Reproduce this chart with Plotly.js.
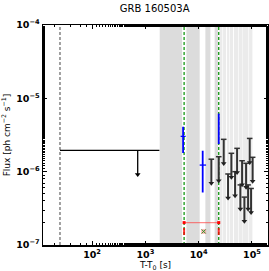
<!DOCTYPE html>
<html><head><meta charset="utf-8">
<script src="https://cdn.plot.ly/plotly-3.0.1.min.js"></script>
<style>body{margin:0;padding:0;background:#fff}#c{width:269px;height:271px}</style>
</head><body><div id="c"></div>
<script>
// ---- data ----
const xRangeVals = [12, 2.0e5];
const yRangeVals = [1e-7, 1e-4];
const t90Line = 25;
const greenLines = [5330, 23800];
// dark gray bands [start, end]
const darkBandStart = [1858, 5890, 13370, 19950];
const darkBandEnd   = [4890, 10450, 16600, 23100];
// light gray bands
const lightBandStart = [24500, 28700, 34100, 38800, 46100, 56400, 67000, 88300];
const lightBandEnd   = [27900, 32700, 37700, 44200, 54900, 66000, 85700, 101900];
// first (long) upper limit
const ul0T = 718, ul0Lo = 25, ul0Hi = 1833, ul0Val = 1.95e-6;
// upper limits
const ulT   = [17300, 23800, 29500, 35600, 41100, 48200, 52600, 60600, 65300, 72100, 77600, 84600, 90700, 96300, 103000];
const ulVal = [1.48e-6, 1.60e-6, 2.76e-6, 9.3e-7, 1.78e-6, 1.0e-6, 2.08e-6, 6.6e-7, 1.41e-6, 4.5e-7, 1.30e-6, 6.6e-7, 2.84e-6, 5.9e-7, 1.57e-6];
// detections
const detT = [5100, 11900, 23800];
const detF = [3.03e-6, 1.23e-6, 4.45e-6];
const detFHi = [1.07e-6, 0.70e-6, 1.75e-6];
const detFLo = [1.23e-6, 0.71e-6, 2.07e-6];
const detTLo = [510, 1450, 0];
const detTHi = [600, 1870, 0];
// red interval
const redT = [5330, 23800];
const redF = 2.02e-7;
const redTickF = 1.53e-7;
const markT = 12400, markF = 1.53e-7;
// ticks
const xTickVals = [1e2, 1e3, 1e4, 1e5];
const xTickText = ['10<sup>2</sup>', '10<sup>3</sup>', '10<sup>4</sup>', '10<sup>5</sup>'];
const yTickVals = [1e-7, 1e-6, 1e-5, 1e-4];
const yTickText = ['10<sup>−7</sup>', '10<sup>−6</sup>', '10<sup>−5</sup>', '10<sup>−4</sup>'];
const arrowFactor = 0.47;

const traces = [];
function band(a, b, color) {
  traces.push({x: [a, b, b, a, a], y: [yRangeVals[0], yRangeVals[0], yRangeVals[1], yRangeVals[1], yRangeVals[0]],
    mode: 'lines', fill: 'toself', fillcolor: color, line: {width: 0}, hoverinfo: 'skip', showlegend: false});
}
darkBandStart.forEach((s, i) => band(s, darkBandEnd[i], '#dcdcdc'));
lightBandStart.forEach((s, i) => band(s, lightBandEnd[i], '#ebebeb'));

function vline(x, color, dash, w) {
  traces.push({x: [x, x], y: yRangeVals, mode: 'lines', line: {color: color, dash: dash, width: w}, showlegend: false, hoverinfo: 'skip'});
}
vline(t90Line, '#555555', '3px,2px', 1.1);
greenLines.forEach(g => vline(g, '#009000', '3px,2px', 1.2));

// red interval
traces.push({x: redT, y: [redF, redF], mode: 'lines+markers', line: {color: 'rgba(255,60,60,0.6)', width: 1.3},
  marker: {color: 'red', symbol: 'square', size: 3}, showlegend: false});
traces.push({x: redT, y: [redTickF, redTickF], mode: 'markers',
  marker: {symbol: 'line-ns', size: 5, line: {color: 'rgba(255,0,0,0.8)', width: 2}}, showlegend: false});
traces.push({x: [markT], y: [markF], mode: 'markers',
  marker: {symbol: 'square', size: 5, color: 'rgba(255,120,120,0.5)'}, showlegend: false});
traces.push({x: [markT], y: [markF], mode: 'markers',
  marker: {symbol: 'x-thin', size: 4, line: {color: '#2a9a2a', width: 1}}, showlegend: false});

// first UL
traces.push({x: [ul0Lo, ul0Hi], y: [ul0Val, ul0Val], mode: 'lines', line: {color: 'black', width: 1.3}, showlegend: false});
traces.push({x: [ul0T, ul0T], y: [ul0Val, ul0Val * arrowFactor], mode: 'lines', line: {color: 'black', width: 1.3}, showlegend: false});
traces.push({x: [ul0T], y: [ul0Val * arrowFactor], mode: 'markers', marker: {symbol: 'triangle-down', size: 5, color: 'black'}, showlegend: false});

// other ULs
ulT.forEach((t, i) => {
  traces.push({x: [t, t], y: [ulVal[i], ulVal[i] * arrowFactor], mode: 'lines', line: {color: '#333333', width: 2}, showlegend: false});
});
traces.push({x: ulT, y: ulVal, mode: 'markers', marker: {symbol: 'line-ew', size: 4, line: {color: '#333333', width: 1.5}}, showlegend: false});
traces.push({x: ulT, y: ulVal.map(v => v * arrowFactor), mode: 'markers', marker: {symbol: 'triangle-down', size: 5, color: '#222222'}, showlegend: false});

// detections
traces.push({x: detT, y: detF, mode: 'markers', marker: {size: 1, color: 'blue', opacity: 0},
  error_y: {type: 'data', symmetric: false, array: detFHi, arrayminus: detFLo, color: 'blue', thickness: 1.8, width: 0},
  error_x: {type: 'data', symmetric: false, array: detTHi, arrayminus: detTLo, color: 'blue', thickness: 1.3, width: 0},
  showlegend: false});

const tickFont = {family: 'DejaVu Sans', size: 9.5, color: 'black', weight: 'bold'};
const layout = {
  width: 269, height: 271,
  margin: {l: 43, r: 1, t: 25, b: 26},
  paper_bgcolor: 'white', plot_bgcolor: 'white',
  showlegend: false,
  title: {text: 'GRB 160503A', font: {family: 'DejaVu Sans', size: 10, color: 'black'}, x: 0.575, xanchor: 'center', y: 0.955, yanchor: 'bottom'},
  xaxis: {type: 'log', range: [Math.log10(xRangeVals[0]), Math.log10(xRangeVals[1])],
    tickvals: xTickVals, ticktext: xTickText, tickfont: tickFont,
    ticks: 'inside', ticklen: 4, tickwidth: 1, tickcolor: 'black',
    minor: {ticks: 'inside', ticklen: 2, tickcolor: 'black', showgrid: false},
    showline: true, linecolor: 'black', linewidth: 1.5, mirror: 'allticks',
    showgrid: false, zeroline: false,
    title: {text: 'T-T<sub>0</sub> [s]', font: {family: 'DejaVu Sans', size: 9, color: 'black'}, standoff: 2}},
  yaxis: {type: 'log', range: [Math.log10(yRangeVals[0]), Math.log10(yRangeVals[1])],
    tickvals: yTickVals, ticktext: yTickText, tickfont: tickFont,
    ticks: 'inside', ticklen: 4, tickwidth: 1, tickcolor: 'black',
    minor: {ticks: 'inside', ticklen: 2, tickcolor: 'black', showgrid: false},
    showline: true, linecolor: 'black', linewidth: 1.5, mirror: 'allticks',
    showgrid: false, zeroline: false,
    title: {text: 'Flux [ph cm<sup>−2</sup> s<sup>−1</sup>]', font: {family: 'DejaVu Sans', size: 9, color: 'black'}, standoff: 4}}
};
Plotly.newPlot('c', traces, layout, {staticPlot: true, displayModeBar: false});
</script></body></html>
